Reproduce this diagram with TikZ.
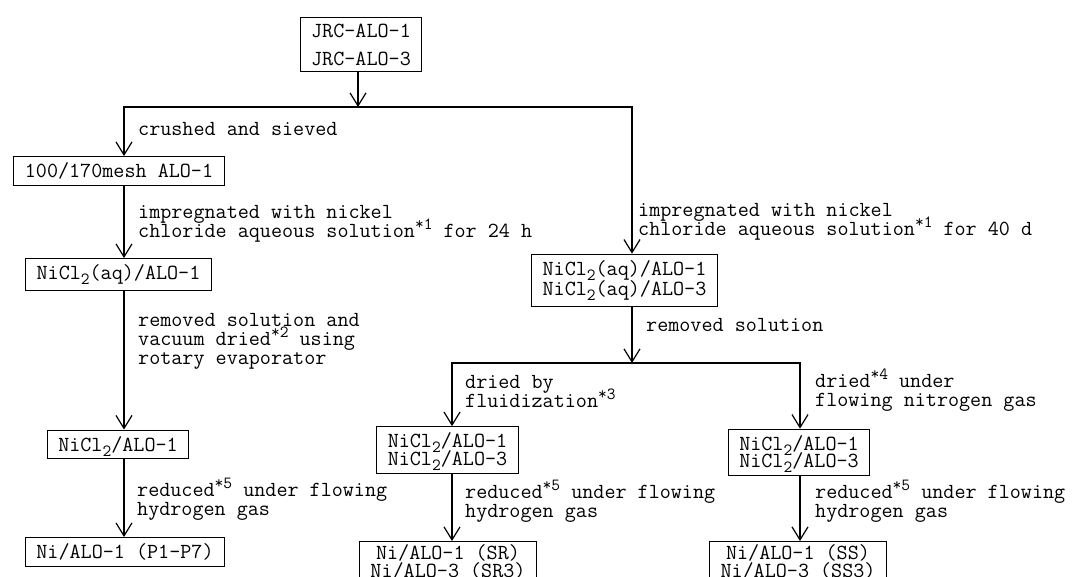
\documentclass[tikz,border=0pt]{standalone}
\usepackage{fontspec}
\usetikzlibrary{arrows.meta,positioning}
\newcommand{\chemsub}[1]{\smash{\raisebox{-5pt}{\fontsize{17}{17}\selectfont #1}}}
\newcommand{\fnref}[1]{\smash{\raisebox{8pt}{\fontsize{17}{17}\selectfont *#1}}}
\tikzset{
  flowbox/.style={rectangle, draw=black, line width=1.2pt, align=center, inner xsep=11pt, inner ysep=6pt, font=\ttfamily\fontsize{21.5}{16.5}\selectfont},
  flownote/.style={anchor=west, align=left, inner sep=0pt, font=\ttfamily\fontsize{21.5}{19}\selectfont},
  flowline/.style={line width=1.2pt},
  flowarrow/.style={line width=1.2pt, -{Straight Barb[length=13pt,width=16pt,line width=1.2pt]}}
}

\begin{document}
\begin{tikzpicture}[x=1pt,y=-1pt]
\useasboundingbox (0,0) rectangle (1079,577);

% boxes
\node[flowbox, font=\ttfamily\fontsize{21.5}{28}\selectfont] (jrc) at (361,44.5) {JRC-ALO-1\\JRC-ALO-3};
\node[flowbox] (mesh) at (119,171) {100/170mesh ALO-1};
\node[flowbox] (aqone) at (118.5,274.5) {NiCl\chemsub{2}(aq)/ALO-1};
\node[flowbox] (dryone) at (118,444.5) {NiCl\chemsub{2}/ALO-1};
\node[flowbox] (pone) at (125,552) {Ni/ALO-1 (P1-P7)};
\node[flowbox] (aqboth) at (624.5,280.5) {NiCl\chemsub{2}(aq)/ALO-1\\NiCl\chemsub{2}(aq)/ALO-3};
\node[flowbox] (fluid) at (447.5,450) {NiCl\chemsub{2}/ALO-1\\NiCl\chemsub{2}/ALO-3};
\node[flowbox] (nitro) at (799,452.5) {NiCl\chemsub{2}/ALO-1\\NiCl\chemsub{2}/ALO-3};
\node[flowbox, anchor=north, inner ysep=3pt] (sr) at (448,541) {Ni/ALO-1 (SR)\\Ni/ALO-3 (SR3)};
\node[flowbox, anchor=north, inner ysep=3pt] (ss) at (798,541) {Ni/ALO-1 (SS)\\Ni/ALO-3 (SS3)};

% branch points
\coordinate (split) at (358,107);
\coordinate (splitL) at (124,107);
\coordinate (splitR) at (632,107);
\coordinate (merge) at (632,363);
\coordinate (mergeL) at (452,363);
\coordinate (mergeR) at (800,363);

% notes
\node[flownote] (crush) at (138,129) {crushed and sieved};
\node[flownote] (impone) at (138,223.5) {impregnated with nickel\\chloride aqueous solution\fnref{1} for 24 h};
\node[flownote] (vac) at (138,341) {removed solution and\\vacuum dried\fnref{2} using\\rotary evaporator};
\node[flownote] (redone) at (137,502) {reduced\fnref{5} under flowing\\hydrogen gas};
\node[flownote] (impboth) at (638,222) {impregnated with nickel\\chloride aqueous solution\fnref{1} for 40 d};
\node[flownote] (remove) at (646,325) {removed solution};
\node[flownote] (fluidnote) at (465,391) {dried by\\fluidization\fnref{3}};
\node[flownote] (nitronote) at (815,393) {dried\fnref{4} under\\flowing nitrogen gas};
\node[flownote] (redsr) at (465,504) {reduced\fnref{5} under flowing\\hydrogen gas};
\node[flownote] (redss) at (815,504) {reduced\fnref{5} under flowing\\hydrogen gas};

% connectors
\draw[flowarrow] (jrc.south -| split) -- (split);
\draw[flowarrow] (splitR) -- (splitL) -- (splitL |- mesh.north);
\draw[flowarrow] (splitL) -- (splitR) -- (splitR |- aqboth.north);
\draw[flowarrow] (mesh.south -| splitL) -- (splitL |- aqone.north);
\draw[flowarrow] (aqone.south -| splitL) -- (splitL |- dryone.north);
\draw[flowarrow] (dryone.south -| splitL) -- (splitL |- pone.north);
\draw[flowarrow] (aqboth.south -| merge) -- (merge);
\draw[flowarrow] (mergeR) -- (mergeL) -- (mergeL |- fluid.north);
\draw[flowarrow] (mergeL) -- (mergeR) -- (mergeR |- nitro.north);
\draw[flowarrow] (fluid.south -| mergeL) -- (mergeL |- sr.north);
\draw[flowarrow] (nitro.south -| mergeR) -- (mergeR |- ss.north);
\end{tikzpicture}
\end{document}
